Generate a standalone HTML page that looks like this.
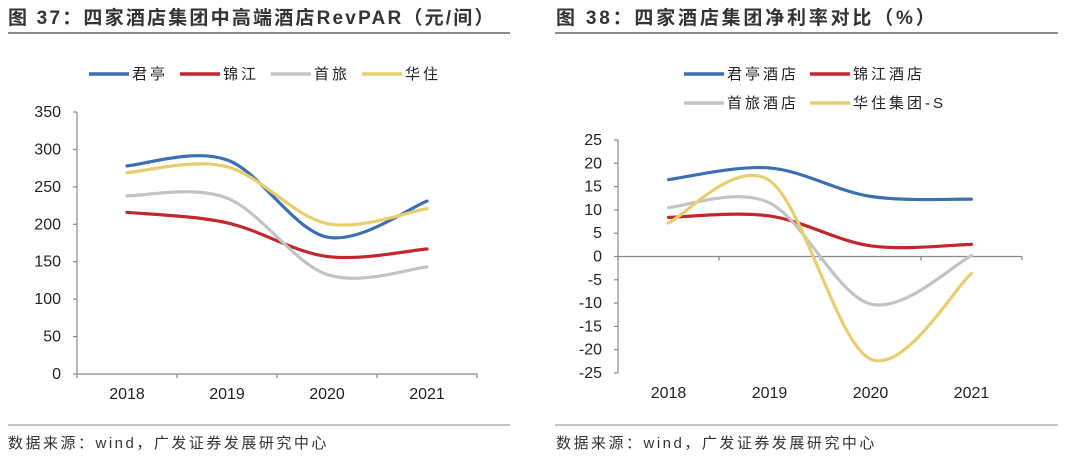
<!DOCTYPE html>
<html><head><meta charset="utf-8"><style>
body{margin:0;background:#fff;width:1080px;height:457px;overflow:hidden;font-family:"Liberation Sans","Noto Sans CJK SC",sans-serif;}
svg text{font-family:"Liberation Sans","Noto Sans CJK SC",sans-serif;}
</style></head><body>
<svg id="svg" width="1080" height="457" viewBox="0 0 1080 457">
<text x="8" y="24" font-size="19" font-weight="bold" fill="#333" letter-spacing="2.2">图 37：四家酒店集团中高端酒店RevPAR（元/间）</text>
<line x1="8" y1="33" x2="510" y2="33" stroke="#666" stroke-width="1.5"/>
<text x="556" y="24" font-size="19" font-weight="bold" fill="#333" letter-spacing="2.8">图 38：四家酒店集团净利率对比（%）</text>
<line x1="555" y1="33" x2="1058" y2="33" stroke="#666" stroke-width="1.5"/>
<line x1="8" y1="425" x2="510" y2="425" stroke="#888" stroke-width="1"/>
<line x1="555" y1="425" x2="1058" y2="425" stroke="#888" stroke-width="1"/>
<text x="8" y="448" font-size="15" fill="#333" letter-spacing="2.5">数据来源：wind，广发证券发展研究中心</text>
<text x="556" y="448" font-size="15" fill="#333" letter-spacing="2.5">数据来源：wind，广发证券发展研究中心</text>
<g id="left"></g><g id="right"></g>
</svg>
<script>
const years = ["2018","2019","2020","2021"];
const leftTicks = [0,50,100,150,200,250,300,350];
const leftJunting = [278,286,183,231];
const leftJinjiang = [216,202,157,167];
const leftShoulv = [238,235,133,143];
const leftHuazhu = [269,277,201,221];
const rightTicks = [-25,-20,-15,-10,-5,0,5,10,15,20,25];
const rightJunting = [16.5,19,12.9,12.3];
const rightJinjiang = [8.4,8.7,2.3,2.6];
const rightShoulv = [10.5,11.5,-10.2,0.2];
const rightHuazhu = [7.2,16.3,-22,-3.6];
const leftNames = ["君亭","锦江","首旅","华住"];
const rightNames = ["君亭酒店","锦江酒店","首旅酒店","华住集团-S"];
const colors = ["#3b6fb1","#c1272d","#c3c3c3","#e8cd6e"];
const NS="http://www.w3.org/2000/svg";
function mk(parent,tag,attrs){const e=document.createElementNS(NS,tag);for(const k in attrs)e.setAttribute(k,attrs[k]);parent.appendChild(e);return e;}
function smooth(pts){let d="M"+pts[0][0]+","+pts[0][1];for(let i=0;i<pts.length-1;i++){const p0=pts[i-1]||pts[i],p1=pts[i],p2=pts[i+1],p3=pts[i+2]||p2;const t=1/6;d+=" C"+(p1[0]+(p2[0]-p0[0])*t)+","+(p1[1]+(p2[1]-p0[1])*t)+" "+(p2[0]-(p3[0]-p1[0])*t)+","+(p2[1]-(p3[1]-p1[1])*t)+" "+p2[0]+","+p2[1];}return d;}
function draw(g,cfg){
  const y=v=>cfg.y0+(v-cfg.min)/(cfg.max-cfg.min)*(cfg.y1-cfg.y0);
  const x=i=>cfg.x0+cfg.cw*(i+0.5);
  const ax=mk(g,"line",{x1:cfg.x0,y1:cfg.y0,x2:cfg.x0,y2:cfg.y1,stroke:"#888","stroke-width":1.2});
  
  
  cfg.ticks.forEach(t=>{
    const tl=mk(g,"line",{x1:cfg.x0-4,y1:y(t),x2:cfg.x0,y2:y(t),stroke:"#888","stroke-width":1.2});
    
    
    const tx=mk(g,"text",{x:cfg.x0-16,y:y(t)+5,"font-size":16,"text-anchor":"end",fill:"#222"});tx.textContent=t;
    
    
  });
  const zy=y(0);const xe=cfg.x0+cfg.cw*years.length;
  const xa=mk(g,"line",{x1:cfg.x0,y1:zy,x2:xe,y2:zy,stroke:"#888","stroke-width":1.2});
  
  
  for(let i=0;i<=years.length;i++){
    const tk=mk(g,"line",{x1:cfg.x0+cfg.cw*i,y1:zy,x2:cfg.x0+cfg.cw*i,y2:zy+4,stroke:"#888","stroke-width":1.2});
    
    
  }
  years.forEach((yr,i)=>{
    const tx=mk(g,"text",{x:x(i),y:cfg.labelY,"font-size":16,"text-anchor":"middle",fill:"#222"});tx.textContent=yr;
    
    
  });
  cfg.series.forEach((s,k)=>{
    const p=mk(g,"path",{d:smooth(s.map((v,i)=>[x(i),y(v)])),fill:"none",stroke:colors[k],"stroke-width":3.2,"stroke-linecap":"round"});
    
    
  });
  cfg.legend.forEach((L,k)=>{
    const l=mk(g,"line",{x1:L[0],y1:L[1],x2:L[0]+40,y2:L[1],stroke:colors[k],"stroke-width":3.5});
    
    
    const t=mk(g,"text",{x:L[0]+43,y:L[1]+5,"font-size":15,fill:"#222","letter-spacing":3});t.textContent=cfg.names[k];
    
    
  });
}
draw(document.getElementById("left"),{x0:77,cw:100,y0:374,y1:112,min:0,max:350,ticks:leftTicks,labelY:399,
 series:[leftJunting,leftJinjiang,leftShoulv,leftHuazhu],names:leftNames,
 legend:[[89,74],[180,74],[271,74],[362,74]]});
draw(document.getElementById("right"),{x0:618,cw:101,y0:373,y1:140,min:-25,max:25,ticks:rightTicks,labelY:398,
 series:[rightJunting,rightJinjiang,rightShoulv,rightHuazhu],names:rightNames,
 legend:[[684,74],[810,74],[684,103],[810,103]]});
</script>
</body></html>
